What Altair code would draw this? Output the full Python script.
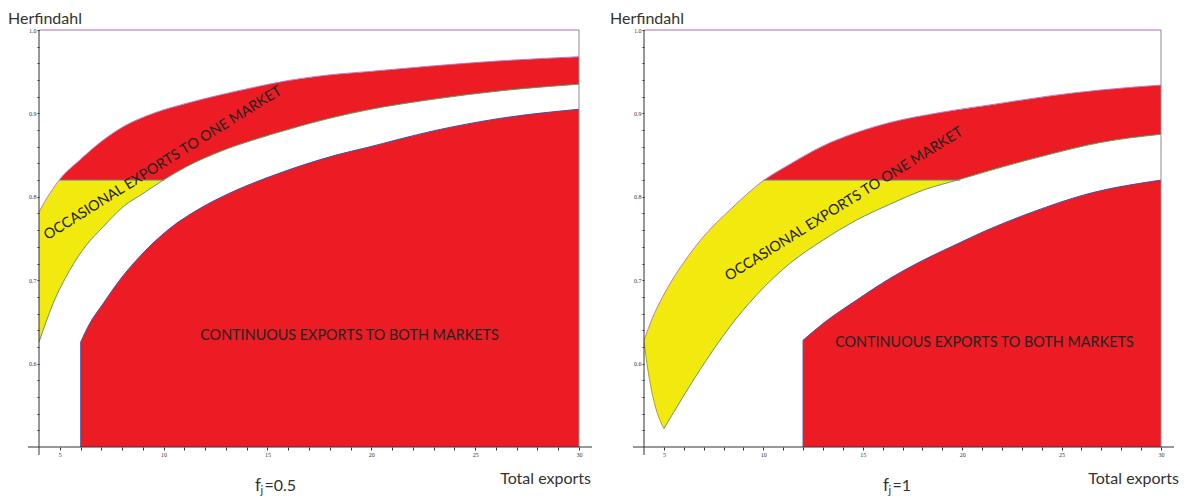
import altair as alt
import pandas as pd

RED = "#ED1C24"
YELLOW = "#F2EA0F"
FONT = "Lato"
TXT = "#222222"

X_TICKS = [5, 6, 7, 8, 9, 10, 11, 12, 13, 14, 15, 16, 17, 18, 19, 20,
           21, 22, 23, 24, 25, 26, 27, 28, 29, 30]
Y_TICKS = [0.52, 0.54, 0.56, 0.58, 0.6, 0.62, 0.64, 0.66, 0.68, 0.7, 0.72,
           0.74, 0.76, 0.78, 0.8, 0.82, 0.84, 0.86, 0.88, 0.9, 0.92, 0.94,
           0.96, 0.98, 1.0]

# ---------------- panel f_j = 0.5 ----------------
A_U_X = [4.0, 4.52, 5.0, 5.96, 7.09, 8.05, 9.49, 11.09, 12.69, 14.3, 15.9, 18.3, 19.78, 22.98, 26.19, 30.0]
A_U_Y = [0.782, 0.804, 0.821, 0.844, 0.868, 0.884, 0.900, 0.912, 0.922, 0.931, 0.939, 0.947, 0.950, 0.957, 0.963, 0.968]
A_M_X = [4.0, 4.68, 5.48, 6.28, 7.09, 8.05, 9.01, 10.05, 11.09, 12.69, 14.3, 15.9, 18.3, 19.78, 22.98, 26.19, 30.0]
A_M_Y = [0.626, 0.672, 0.712, 0.742, 0.764, 0.788, 0.804, 0.821, 0.836, 0.854, 0.868, 0.880, 0.896, 0.904, 0.917, 0.927, 0.935]
A_L_X = []
A_L_Y = []
A_B_X = [6.01, 6.44, 7.09, 7.88, 8.69, 10.29, 11.89, 13.5, 15.1, 16.7, 18.3, 19.78, 22.98, 26.19, 30.0]
A_B_Y = [0.626, 0.648, 0.672, 0.700, 0.724, 0.762, 0.788, 0.808, 0.824, 0.838, 0.850, 0.859, 0.879, 0.894, 0.905]
A_CUT = [5.0, 10.05]          # x where U and M reach the 0.82 level
A_OCC = [9.97, 0.840]
A_CONT = [18.95, 0.633]

# ---------------- panel f_j = 1 ----------------
B_U_X = [4.0, 4.45, 5.12, 5.96, 7.13, 8.31, 9.98, 11.33, 13.0, 14.68, 16.36, 18.88, 21.9, 24.41, 26.93, 30.0]
B_U_Y = [0.628, 0.656, 0.688, 0.720, 0.756, 0.784, 0.819, 0.839, 0.861, 0.877, 0.889, 0.901, 0.912, 0.921, 0.928, 0.934]
B_L_X = [4.0, 4.2, 4.45, 5.0]
B_L_Y = [0.626, 0.592, 0.560, 0.522]
B_M_X = [5.0, 5.96, 7.13, 8.31, 9.65, 11.33, 13.0, 14.68, 16.36, 18.04, 19.9, 21.9, 24.41, 26.93, 30.0]
B_M_Y = [0.522, 0.560, 0.604, 0.644, 0.682, 0.720, 0.748, 0.772, 0.791, 0.808, 0.821, 0.835, 0.851, 0.865, 0.875]
B_B_X = [12.0, 13.0, 14.68, 16.36, 18.04, 19.8, 21.06, 23.57, 26.09, 30.0]
B_B_Y = [0.628, 0.648, 0.676, 0.702, 0.724, 0.744, 0.758, 0.782, 0.802, 0.820]
B_CUT = [10.0, 19.9]
B_OCC = [14.07, 0.791]
B_CONT = [21.12, 0.625]

OCC_LABEL = "OCCASIONAL EXPORTS TO ONE MARKET"
CONT_LABEL = "CONTINUOUS EXPORTS TO BOTH MARKETS"


def df(xs, ys):
    return pd.DataFrame({"x": xs, "y": ys})


def panel(ux, uy, mx, my, lx, ly, bx, by, cut, occ, cont, W, H,
          herf_dx, tot_dx, fj_dx, fj_val):
    xs = alt.Scale(domain=[4, 30], nice=False, zero=False)
    ys = alt.Scale(domain=[0.5, 1.0], nice=False, zero=False)
    xax = alt.Axis(values=X_TICKS, labelExpr="datum.value % 5 == 0 ? datum.label : ''",
                   title=None, domain=False, grid=False, tickSize=3, tickColor="#333",
                   labelFont="Liberation Serif", labelFontSize=6, labelColor="#333",
                   labelPadding=1, zindex=1, labelFlush=False, labelOverlap=False)
    yax = alt.Axis(values=Y_TICKS,
                   labelExpr="abs(datum.value*10 - round(datum.value*10)) < 0.01 ? format(datum.value, '.1f') : ''",
                   title=None, domain=False, grid=False, tickSize=2, tickColor="#333",
                   labelFont="Liberation Serif", labelFontSize=6, labelColor="#333",
                   labelPadding=1, zindex=1, labelFlush=False, labelOverlap=False)
    X = alt.X("x:Q", scale=xs, axis=xax)
    Y = alt.Y("y:Q", scale=ys, axis=yax)
    X2 = alt.X2("x2:Q")
    Y2 = alt.Y2("y2:Q")

    layers = []
    # 1 red below upper curve
    layers.append(alt.Chart(df(ux, uy)).mark_area(color=RED, interpolate="monotone")
                  .encode(x=X, y=Y, y2=alt.datum(0.5)))
    # 2 yellow part below 0.82
    layers.append(alt.Chart(pd.DataFrame({"x": [4.0], "x2": [cut[1]], "y": [0.5], "y2": [0.82]}))
                  .mark_rect(color=YELLOW).encode(x=X, x2=X2, y=Y, y2=Y2))
    # 3 white below middle curve (and lower-left curve)
    if lx:
        layers.append(alt.Chart(df(lx, ly)).mark_area(color="white", interpolate="monotone")
                      .encode(x=X, y=Y, y2=alt.datum(0.5)))
    layers.append(alt.Chart(df(mx, my)).mark_area(color="white", interpolate="monotone")
                  .encode(x=X, y=Y, y2=alt.datum(0.5)))
    # 4 red continuous region
    layers.append(alt.Chart(df(bx, by)).mark_area(color=RED, interpolate="monotone")
                  .encode(x=X, y=Y, y2=alt.datum(0.5)))
    # 5 white above the upper curve
    layers.append(alt.Chart(df(ux, uy)).mark_area(color="white", interpolate="monotone")
                  .encode(x=X, y=Y, y2=alt.datum(1.0)))
    # boundary lines
    layers.append(alt.Chart(df(ux, uy)).mark_line(color="#B77FC4", strokeWidth=1, interpolate="monotone")
                  .encode(x=X, y=Y))
    if lx:
        layers.append(alt.Chart(df(lx, ly)).mark_line(color="#A8A030", strokeWidth=1, interpolate="monotone")
                      .encode(x=X, y=Y))
    layers.append(alt.Chart(df(mx, my)).mark_line(color="#5E9E5E", strokeWidth=1, interpolate="monotone")
                  .encode(x=X, y=Y))
    layers.append(alt.Chart(df(bx, by)).mark_line(color="#4050A8", strokeWidth=1, interpolate="monotone")
                  .encode(x=X, y=Y))
    layers.append(alt.Chart(pd.DataFrame({"x": [bx[0]], "y": [0.5], "y2": [by[0]]}))
                  .mark_rule(color="#4050A8", strokeWidth=1).encode(x=X, y=Y, y2=Y2))
    layers.append(alt.Chart(pd.DataFrame({"x": [cut[0]], "x2": [cut[1]], "y": [0.82]}))
                  .mark_rule(color="#6B8E8E", strokeWidth=1).encode(x=X, x2=X2, y=Y))
    # frame pieces: top line at 1.0, right line at 30
    layers.append(alt.Chart(pd.DataFrame({"x": [4.0], "x2": [30.0], "y": [1.0]}))
                  .mark_rule(color="#B06AB8", strokeWidth=1).encode(x=X, x2=X2, y=Y))
    layers.append(alt.Chart(pd.DataFrame({"x": [30.0], "y": [0.5], "y2": [1.0]}))
                  .mark_rule(color="#8C8C8C", strokeWidth=1).encode(x=X, y=Y, y2=Y2))
    # axis lines (Mathematica-style, slightly overshooting)
    layers.append(alt.Chart(pd.DataFrame({"a": [0]})).mark_rule(color="#333", strokeWidth=1)
                  .encode(x=alt.value(-11), x2=alt.value(W + 13), y=alt.value(H)))
    layers.append(alt.Chart(pd.DataFrame({"a": [0]})).mark_rule(color="#333", strokeWidth=1)
                  .encode(x=alt.value(0), y=alt.value(0), y2=alt.value(H + 8)))
    # region labels
    layers.append(alt.Chart(pd.DataFrame({"x": [occ[0]], "y": [occ[1]], "t": [OCC_LABEL]}))
                  .mark_text(font=FONT, fontSize=14.4, color=TXT, angle=328, align="center", baseline="middle")
                  .encode(x=X, y=Y, text="t:N"))
    layers.append(alt.Chart(pd.DataFrame({"x": [cont[0]], "y": [cont[1]], "t": [CONT_LABEL]}))
                  .mark_text(font=FONT, fontSize=14.4, color=TXT, align="center", baseline="middle")
                  .encode(x=X, y=Y, text="t:N"))
    # titles
    layers.append(alt.Chart(pd.DataFrame({"t": ["Herfindahl"]}))
                  .mark_text(font=FONT, fontSize=16, color="#333", align="left", baseline="top")
                  .encode(x=alt.value(herf_dx), y=alt.value(-19), text="t:N"))
    layers.append(alt.Chart(pd.DataFrame({"t": ["Total exports"]}))
                  .mark_text(font=FONT, fontSize=16, color="#333", align="right", baseline="middle")
                  .encode(x=alt.value(W + tot_dx), y=alt.value(H + 32), text="t:N"))
    layers.append(alt.Chart(pd.DataFrame({"t": ["f"]}))
                  .mark_text(font=FONT, fontSize=17, color="#333", align="left", baseline="alphabetic")
                  .encode(x=alt.value(fj_dx), y=alt.value(H + 44), text="t:N"))
    layers.append(alt.Chart(pd.DataFrame({"t": ["j"]}))
                  .mark_text(font=FONT, fontSize=11, color="#333", align="left", baseline="alphabetic")
                  .encode(x=alt.value(fj_dx + 5.5), y=alt.value(H + 47), text="t:N"))
    layers.append(alt.Chart(pd.DataFrame({"t": ["=" + fj_val]}))
                  .mark_text(font=FONT, fontSize=16, color="#333", align="left", baseline="alphabetic")
                  .encode(x=alt.value(fj_dx + 9.5), y=alt.value(H + 44), text="t:N"))
    return alt.layer(*layers).properties(width=W, height=H)


left = panel(A_U_X, A_U_Y, A_M_X, A_M_Y, A_L_X, A_L_Y, A_B_X, A_B_Y, A_CUT, A_OCC, A_CONT,
             540, 417, -31, 12, 216, "0.5")
right = panel(B_U_X, B_U_Y, B_M_X, B_M_Y, B_L_X, B_L_Y, B_B_X, B_B_Y, B_CUT, B_OCC, B_CONT,
              517, 417, -34, 18, 239, "1")

chart = (alt.hconcat(left, right, spacing=65)
         .properties(padding={"top": 3, "left": 0, "right": 0, "bottom": 0}, bounds="flush")
         .configure_view(stroke=None))

chart.save("out.html", embed_options={"renderer": "svg", "actions": False})
